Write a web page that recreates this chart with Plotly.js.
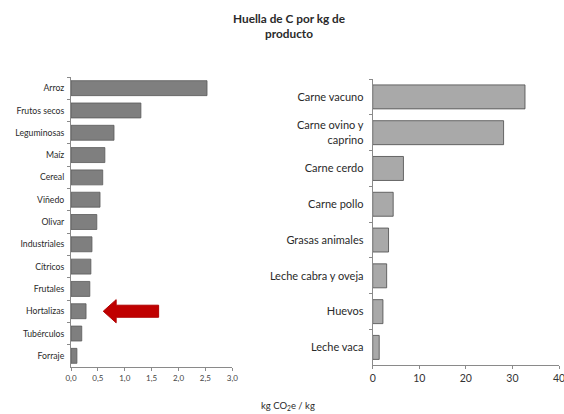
<!DOCTYPE html>
<html><head><meta charset="utf-8">
<script src="https://cdn.plot.ly/plotly-3.0.1.min.js"></script>
<style>html,body{margin:0;padding:0;background:#fff}#c{width:564px;height:414px}</style>
</head><body><div id="c"></div>
<script>
const cropCats = ['Arroz','Frutos secos','Leguminosas','Maíz','Cereal','Viñedo','Olivar','Industriales','Cítricos','Frutales','Hortalizas','Tubérculos','Forraje'];
const cropVals = [2.53,1.30,0.80,0.63,0.59,0.54,0.48,0.39,0.37,0.35,0.28,0.20,0.11];
const animalCats = ['Carne vacuno','Carne ovino y<br>caprino','Carne cerdo','Carne pollo','Grasas animales','Leche cabra y oveja','Huevos','Leche vaca'];
const animalVals = [32.7,28.1,6.6,4.4,3.4,3.0,2.2,1.4];
const leftTicks = [0,0.5,1,1.5,2,2.5,3];
const rightTicks = [0,10,20,30,40];

const font = 'Lato, "Open Sans", sans-serif';
const data = [
  {type:'bar', orientation:'h', x:cropVals, y:cropCats, xaxis:'x', yaxis:'y',
   marker:{color:'#7f7f7f', line:{color:'#5a5a5a', width:0.8}}, hoverinfo:'none'},
  {type:'bar', orientation:'h', x:animalVals, y:animalCats, xaxis:'x2', yaxis:'y2',
   marker:{color:'#a9a9a9', line:{color:'#4a4a4a', width:0.8}}, hoverinfo:'none'}
];
const axCommon = {showgrid:false, zeroline:false, showline:true, linecolor:'#8a8a8a', linewidth:1,
  ticks:'outside', ticklen:3, tickcolor:'#8a8a8a', fixedrange:true, ticklabeloverflow:'allow'};
const layout = {
  width:564, height:414, margin:{l:0,r:0,t:0,b:0}, showlegend:false,
  paper_bgcolor:'#fff', plot_bgcolor:'#fff', bargap:0.33, separators:',.',
  font:{family:font, color:'#333'},
  xaxis:Object.assign({}, axCommon, {domain:[71/564, 232.3/564], range:[0,3], tickvals:leftTicks, tickformat:'.1f',
    tickfont:{size:8, color:'#444'}, anchor:'y'}),
  yaxis:Object.assign({}, axCommon, {domain:[1-367/414, 1-77/414], autorange:'reversed', tickson:'boundaries',
    tickfont:{size:8.7, color:'#2a2a2a'}, anchor:'x', ticklabelstandoff:4}),
  xaxis2:Object.assign({}, axCommon, {domain:[372.7/564, 559/564], range:[0,40], tickvals:rightTicks,
    tickfont:{size:10.5, color:'#333'}, anchor:'y2'}),
  yaxis2:Object.assign({}, axCommon, {domain:[1-365.3/414, 1-79/414], autorange:'reversed', tickson:'boundaries',
    tickfont:{size:11, color:'#2a2a2a'}, anchor:'x2', ticklabelstandoff:6}),
  annotations:[
    {xref:'paper', yref:'paper', x:289/564, y:1-26/414, yanchor:'middle', text:'<b>Huella de C por kg de<br>producto</b>',
     showarrow:false, font:{size:11.8, color:'#2a2a2a', family:font}, align:'center'},
    {xref:'paper', yref:'paper', x:288/564, y:1-406/414, yanchor:'middle', text:'kg CO<sub>2</sub>e / kg',
     showarrow:false, font:{size:9.5, color:'#2a2a2a', family:font}}
  ],
  shapes:[
    {type:'path', xref:'x', yref:'y', fillcolor:'#c00000', line:{color:'#b00000', width:1},
     path:'M 1.63 9.73 L 0.84 9.73 L 0.84 9.48 L 0.6 10 L 0.84 10.52 L 0.84 10.27 L 1.63 10.27 Z'}
  ]
};
Plotly.newPlot('c', data, layout, {staticPlot:true, displayModeBar:false});
</script></body></html>
